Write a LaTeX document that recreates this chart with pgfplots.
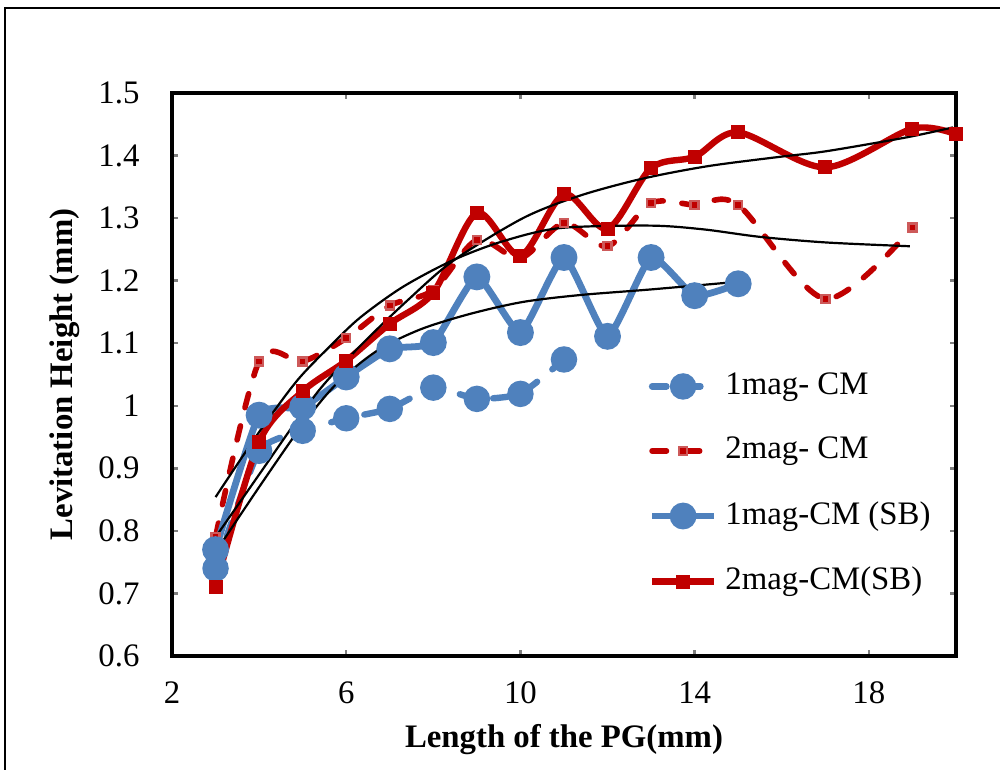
\documentclass[border=0pt]{standalone}
\usepackage{pgfplots}
\pgfplotsset{compat=1.18}
\usepackage{fontspec}
\setmainfont{Liberation Serif}
\definecolor{myblue}{RGB}{79,129,189}
\definecolor{myred}{RGB}{192,0,0}
\definecolor{mysq}{RGB}{205,90,90}

\begin{document}
\begin{tikzpicture}[x=1pt,y=1pt]
\path[use as bounding box] (0,0) rectangle (250,192.5);
\draw[line width=0.5pt] (1.25,-2) -- (1.25,190.5) -- (252,190.5);
\begin{axis}[
  at={(43pt,28.5pt)}, anchor=south west,
  scale only axis, width=196pt, height=140.75pt,
  xmin=2, xmax=20, ymin=0.6, ymax=1.5,
  xtick={2,6,10,14,18},
  ytick={0.6,0.7,0.8,0.9,1,1.1,1.2,1.3,1.4,1.5},
  yticklabels={0.6,0.7,0.8,0.9,1,1.1,1.2,1.3,1.4,1.5},
  tick align=inside, major tick length=1.6pt,
  tick style={color=gray, line width=0.6pt},
  axis line style={line width=1pt},
  ticklabel style={font=\fontsize{8.2}{10}\selectfont},
  /pgf/number format/assume math mode=true,
  yticklabel style={xshift=-4.6pt},
  xticklabel style={yshift=-3pt},
  xlabel={Length of the PG(mm)},
  ylabel={Levitation Height (mm)},
  label style={font=\fontsize{8.2}{10}\selectfont\bfseries},
  xlabel style={at={(axis description cs:0.5,-0.149)}, anchor=center},
  ylabel style={at={(axis description cs:-0.1365,0.5)}, anchor=center},
  legend style={at={(rel axis cs:0.607,0.519)}, anchor=north west, draw=none, fill=none,
    font=\fontsize{8.2}{10}\selectfont, row sep=5.2pt, inner sep=0pt},
  legend cell align=left,
  legend image code/.code={\draw[mark repeat=2,mark phase=2,#1] plot coordinates {(0pt,0pt) (7.75pt,0pt) (15.5pt,0pt)};},
  clip=false,
]
% 1mag- CM
\addplot[color=myblue, line width=1.6pt, dash pattern=on 3.6pt off 4.9pt, line cap=round, smooth, tension=0.3,
  mark=*, mark size=2.5pt, mark options={solid, fill=myblue}]
  coordinates {(3,0.740) (4,0.928) (5,0.960) (6,0.980) (7,0.995) (8,1.029) (9,1.011) (10,1.019) (11,1.074)};
\addlegendentry{1mag- CM}
% 2mag- CM
\addplot[color=myred, line width=1.4pt, dash pattern=on 3.6pt off 4.7pt, line cap=round, smooth, tension=0.5,
  mark=square*, mark size=1.0pt, mark options={solid, fill=myred, draw=mysq, line width=0.6pt}]
  coordinates {(3,0.790) (4,1.071) (5,1.071) (6,1.108) (7,1.160) (8,1.185) (9,1.265) (10,1.236) (11,1.292) (12,1.255) (13,1.324) (14,1.321) (15,1.321) (17,1.171) (19,1.285)};
\addlegendentry{2mag- CM}
% 1mag-CM (SB)
\addplot[color=myblue, line width=1.7pt, smooth, tension=0.3,
  mark=*, mark size=2.5pt, mark options={solid, fill=myblue}]
  coordinates {(3,0.770) (4,0.985) (5,0.998) (6,1.046) (7,1.091) (8,1.101) (9,1.206) (10,1.117) (11,1.237) (12,1.111) (13,1.237) (14,1.176) (15,1.195)};
\addlegendentry{1mag-CM (SB)}
% 2mag-CM(SB)
\addplot[color=myred, line width=1.6pt, smooth, tension=0.5,
  mark=square*, mark size=0.95pt, mark options={solid, fill=myred}]
  coordinates {(3,0.710) (4,0.942) (5,1.023) (6,1.072) (7,1.131) (8,1.181) (9,1.308) (10,1.240) (11,1.338) (12,1.283) (13,1.380) (14,1.398) (15,1.437) (17,1.381) (19,1.443) (20,1.434)};
\addlegendentry{2mag-CM(SB)}
% trend lines
\addplot[black, line width=0.55pt, smooth, forget plot]
  coordinates {(3,0.854) (4,0.958) (4.87,1.040) (5.64,1.096) (6.32,1.141) (7.3,1.190) (8.46,1.233) (9.6,1.263) (10.9,1.284) (12.97,1.288) (14.2,1.282) (15.5,1.270) (17.03,1.261) (18.94,1.255)};
\addplot[black, line width=0.55pt, smooth, forget plot]
  coordinates {(3,0.790) (4,0.890) (5,0.990) (5.56,1.040) (6.44,1.104) (7.4,1.168) (8.46,1.232) (10.06,1.300) (11.37,1.336) (12.8,1.363) (14.3,1.383) (15.96,1.398) (17.03,1.407) (18.86,1.429) (19.93,1.445)};
\addplot[black, line width=0.55pt, smooth, forget plot]
  coordinates {(3,0.766) (4,0.870) (5,0.970) (5.79,1.036) (6.71,1.088) (7.7,1.122) (8.85,1.147) (10.06,1.166) (11.37,1.177) (13,1.186) (14.96,1.198)};
\end{axis}
\end{tikzpicture}
\end{document}
